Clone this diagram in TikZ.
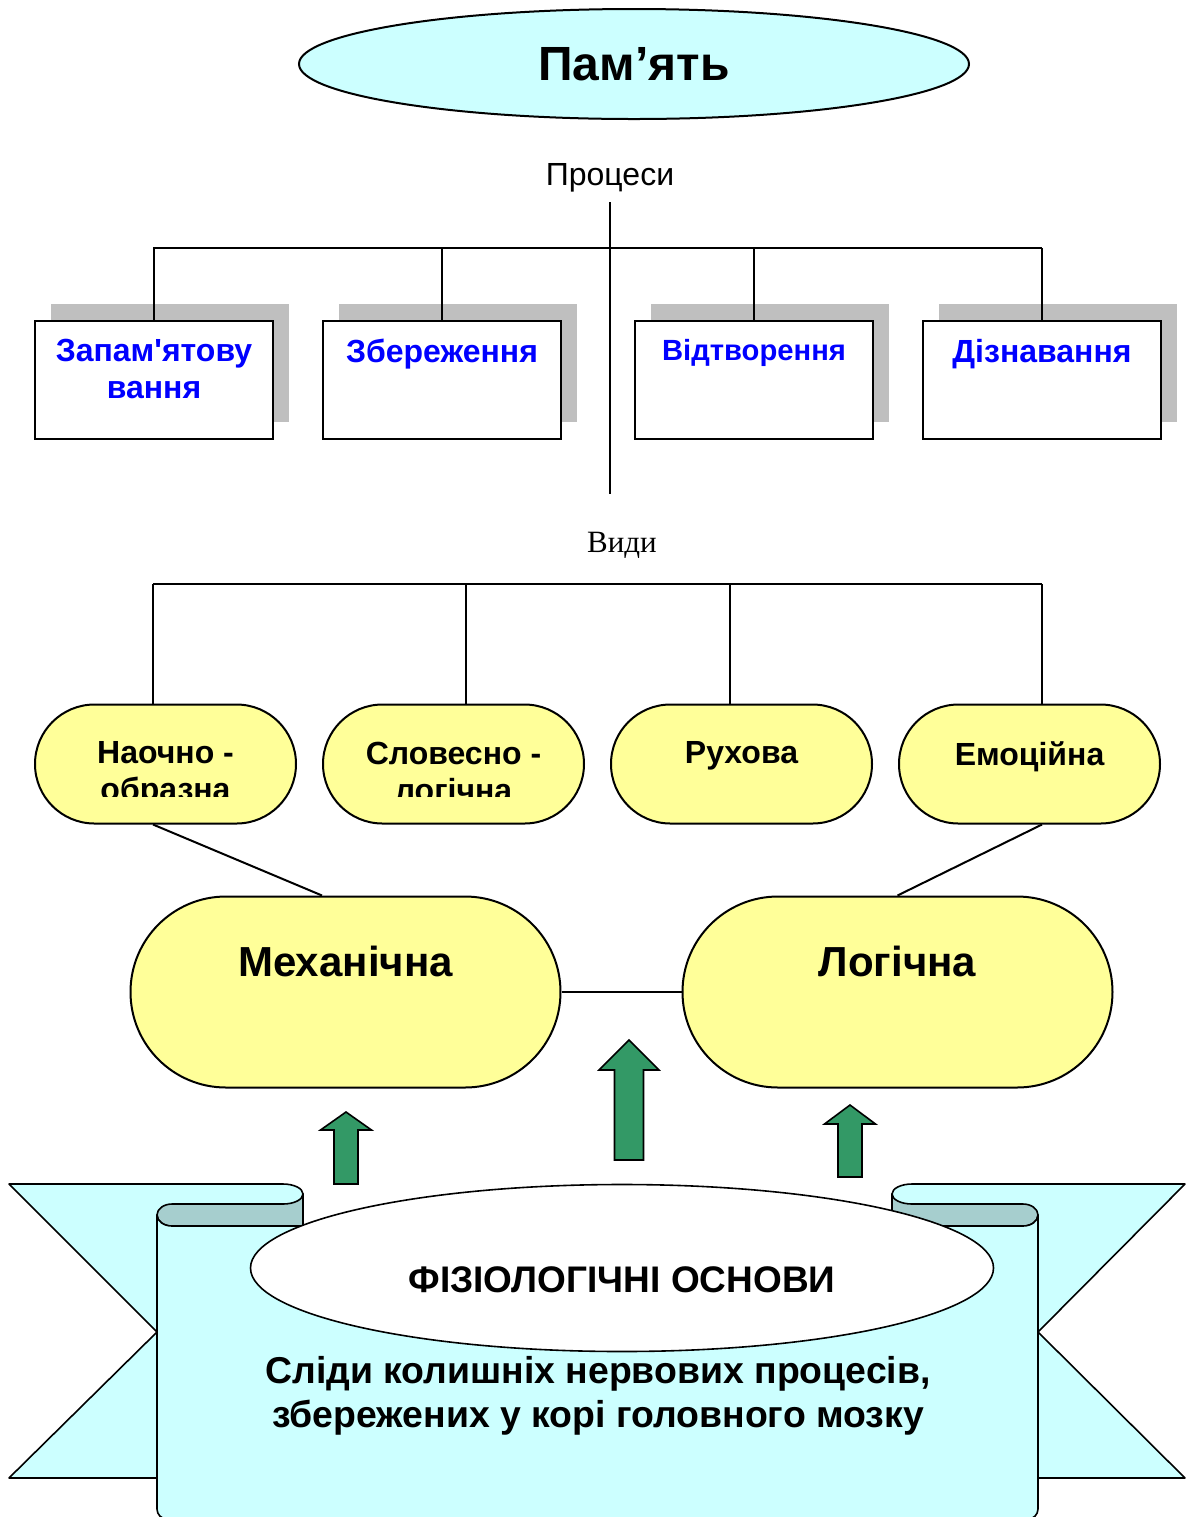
\documentclass[tikz,border=0pt]{standalone}
\usepackage{fontspec}
\newfontfamily\arialfont{Liberation Sans}
\newfontfamily\timesfont{Liberation Serif}
\usetikzlibrary{positioning,shapes.geometric,shapes.misc,shadows,calc}

\definecolor{skycyan}{RGB}{204,255,255}
\definecolor{rolldark}{RGB}{166,206,206}
\definecolor{paleyellow}{RGB}{255,255,153}
\definecolor{arrowgreen}{RGB}{51,153,102}
\definecolor{shadowgray}{RGB}{191,191,191}
\definecolor{labelblue}{RGB}{0,0,255}

\tikzset{
  treeline/.style={line width=1pt},
  titleoval/.style={ellipse,draw,line width=1pt,fill=skycyan,minimum width=335pt,
    minimum height=55pt,inner sep=0pt,font=\arialfont\bfseries\fontsize{24}{28}\selectfont},
  captiontext/.style={inner sep=0pt,font=\arialfont\fontsize{16}{18}\selectfont},
  serifcaption/.style={inner sep=0pt,font=\timesfont\fontsize{15.5}{18}\selectfont},
  procbox/.style={rectangle,draw,line width=1pt,fill=white,minimum width=119pt,
    minimum height=59pt,inner sep=0pt,
    drop shadow={shadow xshift=8pt,shadow yshift=8.5pt,fill=shadowgray,opacity=1}},
  proctext/.style={inner sep=0pt,align=center,text=labelblue,
    font=\arialfont\bfseries\fontsize{16}{18.5}\selectfont},
  pill/.style={rounded rectangle,draw,line width=1pt,fill=paleyellow,
    minimum width=130.5pt,minimum height=59.5pt,inner sep=0pt},
  pilltext/.style={inner sep=0pt,align=center,
    font=\arialfont\bfseries\fontsize{16}{18.5}\selectfont},
  bigpill/.style={rounded rectangle,draw,line width=1pt,fill=paleyellow,
    minimum width=215pt,minimum height=95.5pt,inner sep=0pt},
  bigtext/.style={inner sep=0pt,font=\arialfont\bfseries\fontsize{21}{25}\selectfont},
  uparrow/.style={fill=arrowgreen,draw,line width=0.8pt},
  banner/.style={fill=skycyan,draw,line width=0.8pt,line join=round},
  rollback/.style={fill=rolldark,draw,line width=0.8pt,line join=round},
  physoval/.style={ellipse,draw,line width=0.8pt,fill=white,minimum width=371.5pt,
    minimum height=83.5pt,inner sep=0pt},
  phystext/.style={inner sep=0pt,font=\arialfont\bfseries\fontsize{18.5}{22}\selectfont},
  notetext/.style={inner sep=0pt,align=center,
    font=\arialfont\bfseries\fontsize{18.7}{22}\selectfont}
}

\begin{document}
\begin{tikzpicture}[x=0.5pt,y=0.5pt]
\useasboundingbox (0,0) rectangle (1187,-1517);

% title and processes
\node[titleoval] (mem) at (634,-64) {Пам’ять};
\node[captiontext] (proc) at (610,-178) {Процеси};
\coordinate (axtop) at (610,-202);
\coordinate (axbot) at (610,-494);
\draw[treeline] (axtop) -- (axbot);

\coordinate (pl) at (153,-248);
\coordinate (pr) at (1042,-248);
\draw[treeline] (pl) -- (pr);
\foreach \b/\x/\t in {b1/154/{Запам'ятову\\вання},b2/442/Збереження,
    b3/754/{\fontsize{14.6}{17}\selectfont Відтворення},b4/1042/Дізнавання}{
  \node[procbox] (\b) at (\x,-379.5) {};
  \node[proctext,below=9.5pt of \b.north] (\b t) {\t};
  \draw[treeline] (\b.north) -- (\b.north |- pl);
}

% kinds
\node[serifcaption] (kinds) at (622,-545) {Види};
\coordinate (kl) at (153,-584);
\coordinate (kr) at (1042,-584);
\draw[treeline] (kl) -- (kr);
\coordinate (cutline) at (0,-796);
\foreach \n/\x/\v/\t in {n1/165.5/153/{Наочно -\\образна},n2/453.5/466/{Словесно -\\логічна},
    n3/741.5/730/Рухова,n4/1029.5/1042/Емоційна}{
  \node[pill] (\n) at (\x,-764) {};
  \coordinate (v\n) at (\v,-584);
  \draw[treeline] (v\n) -- (v\n |- \n.north);
  \begin{scope}
    \clip (\n.west |- \n.north) rectangle (\n.east |- cutline);
    \node[pilltext,below=19pt of \n.north] (\n t) {\t};
  \end{scope}
}

\node[bigpill] (mech) at (345.5,-992) {};
\node[bigpill] (logic) at (897.5,-992) {};
\node[bigtext,below=25pt of mech.north] (mecht) {Механічна};
\node[bigtext,below=25pt of logic.north] (logict) {Логічна};
\draw[treeline] (vn1 |- n1.south) -- ($(mech.north)+(-23.5,0)$);
\draw[treeline] (vn4 |- n4.south) -- (logic.north);
\draw[treeline] (mech.east) -- (logic.west);

% arrows
\foreach \x/\t/\w/\b/\s/\h in {346/1112/1130/1184/12/25.5,629/1040/1070/1160/14.5/30,
    850/1105/1124/1177/12/25.5}
  \filldraw[uparrow] (\x,-\t) -- (\x+\h,-\w) -- (\x+\s,-\w) -- (\x+\s,-\b)
    -- (\x-\s,-\b) -- (\x-\s,-\w) -- (\x-\h,-\w) -- cycle;

% ribbon
\filldraw[banner] (157,-1478) -- (9,-1478) -- (157,-1332) -- (9,-1184) -- (283,-1184)
  arc[start angle=90,end angle=0,x radius=20,y radius=10] -- (303,-1226) -- (157,-1226) -- cycle;
\filldraw[banner] (1038,-1478) -- (1185,-1478) -- (1038,-1332) -- (1185,-1184) -- (912,-1184)
  arc[start angle=90,end angle=180,x radius=20,y radius=10] -- (892,-1226) -- (1038,-1226) -- cycle;
\filldraw[rollback] (303,-1194) arc[start angle=0,end angle=-90,x radius=20,y radius=10]
  -- (172,-1204) arc[start angle=90,end angle=270,x radius=15,y radius=11] -- (303,-1226) -- cycle;
\filldraw[rollback] (892,-1194) arc[start angle=180,end angle=270,x radius=20,y radius=10]
  -- (1023,-1204) arc[start angle=90,end angle=-90,x radius=15,y radius=11] -- (892,-1226) -- cycle;
\filldraw[banner] (157,-1215) -- (157,-1509) arc[start angle=180,end angle=270,radius=10]
  -- (1028,-1519) arc[start angle=270,end angle=360,radius=10] -- (1038,-1215)
  arc[start angle=0,end angle=-90,x radius=15,y radius=11] -- (172,-1226)
  arc[start angle=270,end angle=180,x radius=15,y radius=11] -- cycle;

\node[physoval] (phys) at (622,-1268) {};
\node[phystext] (physt) at (622,-1280) {ФІЗІОЛОГІЧНІ ОСНОВИ};
\node[notetext] (trace) at (598,-1396) {Сліди колишніх нервових процесів,\\збережених у корі головного мозку};
\end{tikzpicture}
\end{document}
